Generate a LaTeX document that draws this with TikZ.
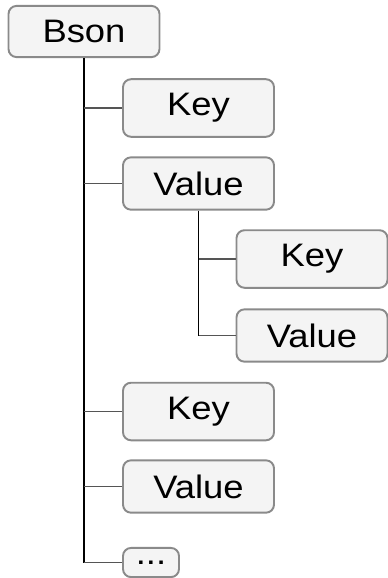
\documentclass[tikz,border=0pt]{standalone}
\usepackage{fontspec}
\setmainfont{Liberation Sans}[FakeStretch=1.12]
\usetikzlibrary{calc}
\definecolor{boxfill}{HTML}{F4F4F4}
\definecolor{boxline}{HTML}{8A8A8A}
\definecolor{branchline}{HTML}{555555}
\tikzset{%
  entry/.style  = {draw=boxline, fill=boxfill, line width=1.1pt, rectangle, rounded corners=0.16cm,
    minimum width=3.02cm, inner ysep=8.1pt, font=\fontsize{18.5}{22}\selectfont},
  more/.style   = {entry, minimum width=0pt, inner xsep=7.3pt, inner ysep=7.3pt},
  trunk/.style  = {line width=1.1pt, black},
  branch/.style = {line width=1.1pt, branchline}
}
\begin{document}
\begin{tikzpicture}[x=0.02cm, y=-0.02cm]
    \useasboundingbox (0, 0) rectangle (388, 578);

    %top level
    \node[entry] (bson) at (84, 31.5) {Bson};

    %children of bson
    \node[entry] (key1) at (198.5, 108) {Key};
    \node[entry] (value1) at (198.5, 183.5) {Value};
    \node[entry] (key3) at (198.5, 411.5) {Key};
    \node[entry] (value3) at (198.5, 486.5) {Value};
    \node[more] (dots) at (151, 562.5) {...};

    %nested document
    \node[entry] (key2) at (312, 259) {Key};
    \node[entry] (value2) at (312, 335.5) {Value};

    %lines
    \draw[trunk] (bson.south) -- (bson.south |- dots.west);
    \foreach \n in {key1, value1, key3, value3, dots}
        \draw[branch] (bson.south |- \n.west) -- (\n.west);
    \draw[trunk] (value1.south) -- (value1.south |- value2.west);
    \foreach \n in {key2, value2}
        \draw[branch] (value1.south |- \n.west) -- (\n.west);
\end{tikzpicture}
\end{document}
